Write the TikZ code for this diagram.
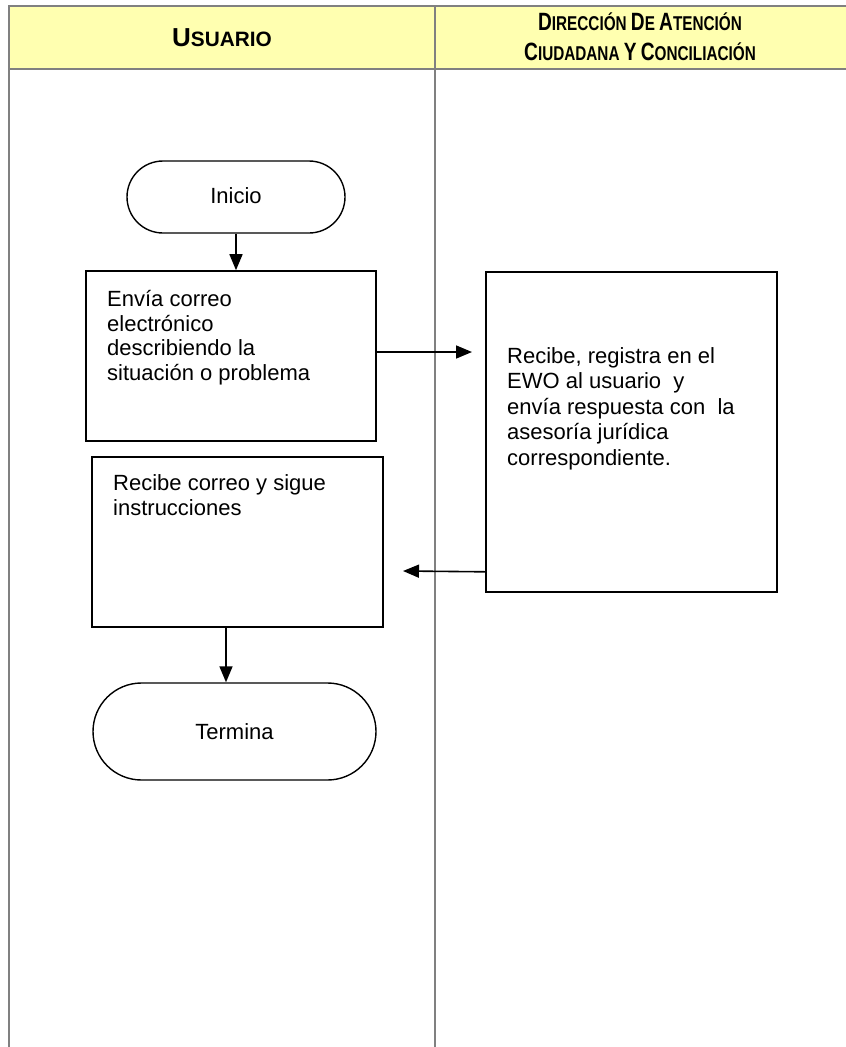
\documentclass[tikz,border=0pt]{standalone}
\usepackage{fontspec}
\setmainfont{Liberation Sans}
\newfontfamily\hdrfont[FakeStretch=0.765]{Liberation Sans}
\usetikzlibrary{arrows.meta,shapes.misc}

% fake small caps for the lane headers: large initial, smaller capitals after it
\newcommand{\capsc}[2]{{\fontsize{25}{30}\selectfont #1}{\fontsize{20}{30}\selectfont #2}}
% invisible rule that fixes the height of a text block's first line
\newcommand{\fstrut}{\rule{0pt}{24pt}}

\definecolor{hdrfill}{RGB}{255,255,176}
\definecolor{gridgray}{RGB}{128,128,128}

\tikzset{
  grid/.style={draw=gridgray, line width=2pt},
  hdrtext/.style={font=\hdrfont\bfseries\fontsize{20}{30}\selectfont, align=center, inner sep=0pt},
  stepbox/.style={draw=black, line width=1.6pt, rectangle, inner sep=0pt},
  terminal/.style={draw=black, line width=1.4pt, rounded rectangle, inner sep=0pt,
    font=\fontsize{22}{25.5}\selectfont},
  bodytext/.style={anchor=north west, inner sep=0pt, align=left,
    font=\fontsize{22}{25.5}\selectfont},
  arr/.style={line width=1.6pt, -{Triangle[length=16pt,width=13pt]}}
}

\begin{document}
\begin{tikzpicture}[x=1pt,y=-1pt]
  \useasboundingbox (0,0) rectangle (846,1047);

  % swimlane table
  \fill[hdrfill] (9,6) rectangle (846,69);
  \draw[grid] (846,6) -- (9,6) -- (9,1047);
  \draw[grid] (9,69) -- (846,69);
  \draw[grid] (435,6) -- (435,1047);

  \node[hdrtext, font=\bfseries] (h1) at (222,38)
    {{\fontsize{26}{30}\selectfont U}{\fontsize{20.8}{30}\selectfont SUARIO}};
  \node[hdrtext] (h2) at (640,37) {\capsc{D}{IRECCIÓN} \capsc{D}{E} \capsc{A}{TENCIÓN}\\
    \capsc{C}{IUDADANA} \capsc{Y}{} \capsc{C}{ONCILIACIÓN}};

  % start / end
  \node[terminal, minimum width=218pt, minimum height=72pt] (ini) at (236,197) {\raisebox{2pt}{Inicio}};
  \node[terminal, minimum width=283pt, minimum height=97pt] (ter) at (234.5,731.5) {Termina};

  % process boxes
  \node[stepbox, minimum width=290pt, minimum height=170pt] (b1) at (231,356) {};
  \node[stepbox, minimum width=291pt, minimum height=320pt] (b2) at (631.5,432) {};
  \node[stepbox, minimum width=291pt, minimum height=170pt] (b3) at (237.5,542) {};

  \node[bodytext, font=\fontsize{22}{24.8}\selectfont] (b1t) at (107,282)
    {\fstrut Envía correo\\electrónico\\describiendo la\\situación o problema};
  \node[bodytext] (b2t) at (507,339)
    {\fstrut Recibe, registra en el\\EWO al usuario\ \ y\\envía respuesta con\ \ la\\asesoría jurídica\\correspondiente.};
  \node[bodytext] (b3t) at (113,466)
    {\fstrut Recibe correo y sigue\\instrucciones};

  % free ends of the two cross-lane connectors
  \coordinate (a1tip) at (472,0);
  \coordinate (a2tip) at (403,571);

  % connectors
  \draw[arr] (ini.south) -- (ini.south |- b1.north);
  \draw[arr] ([yshift=4pt]b1.east) -- ([yshift=4pt]b1.east -| a1tip);
  \draw[arr] ([yshift=21pt]b2.south west) -- (a2tip);
  \draw[arr] ([xshift=-11.5pt]b3.south) -- ([xshift=-11.5pt]b3.south |- ter.north);
\end{tikzpicture}
\end{document}
